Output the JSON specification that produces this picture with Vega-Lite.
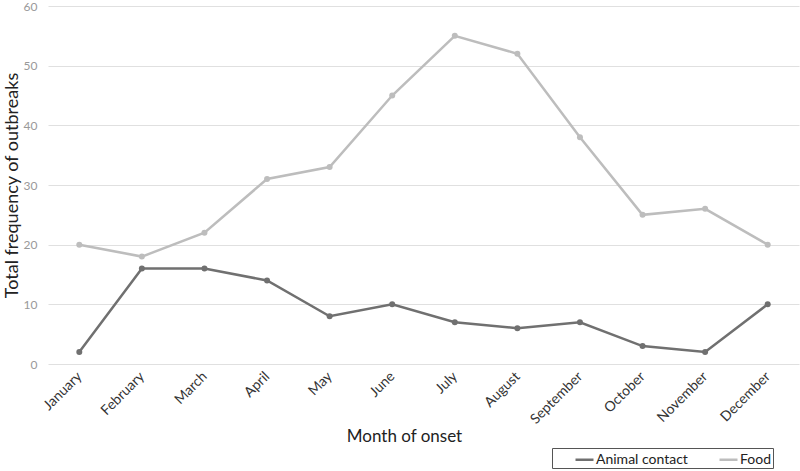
{
  "$schema": "https://vega.github.io/schema/vega-lite/v6.json",
  "autosize": {"type": "none"},
  "width": 751,
  "height": 358,
  "padding": {"left": 48, "top": 6, "right": 1, "bottom": 107},
  "background": "white",
  "config": {"view": {"stroke": null}, "font": "Lato"},
  "data": {"values": [
    {"month": "January", "series": "Animal contact", "count": 2},
    {"month": "February", "series": "Animal contact", "count": 16},
    {"month": "March", "series": "Animal contact", "count": 16},
    {"month": "April", "series": "Animal contact", "count": 14},
    {"month": "May", "series": "Animal contact", "count": 8},
    {"month": "June", "series": "Animal contact", "count": 10},
    {"month": "July", "series": "Animal contact", "count": 7},
    {"month": "August", "series": "Animal contact", "count": 6},
    {"month": "September", "series": "Animal contact", "count": 7},
    {"month": "October", "series": "Animal contact", "count": 3},
    {"month": "November", "series": "Animal contact", "count": 2},
    {"month": "December", "series": "Animal contact", "count": 10},
    {"month": "January", "series": "Food", "count": 20},
    {"month": "February", "series": "Food", "count": 18},
    {"month": "March", "series": "Food", "count": 22},
    {"month": "April", "series": "Food", "count": 31},
    {"month": "May", "series": "Food", "count": 33},
    {"month": "June", "series": "Food", "count": 45},
    {"month": "July", "series": "Food", "count": 55},
    {"month": "August", "series": "Food", "count": 52},
    {"month": "September", "series": "Food", "count": 38},
    {"month": "October", "series": "Food", "count": 25},
    {"month": "November", "series": "Food", "count": 26},
    {"month": "December", "series": "Food", "count": 20}
  ]},
  "mark": {"type": "line", "strokeWidth": 2.5, "point": {"size": 36, "filled": true}},
  "encoding": {
    "x": {
      "field": "month", "type": "ordinal", "sort": null,
      "scale": {"type": "point", "padding": 0.5},
      "axis": {
        "title": "Month of onset", "titleFontSize": 17, "titleFontWeight": "normal", "titleColor": "#222",
        "titlePadding": 2, "titleX": 356,
        "labelAngle": -45, "labelAlign": "right", "labelBaseline": "middle", "labelFontSize": 14, "labelColor": "#333",
        "labelPadding": 10,
        "domain": false, "ticks": false, "grid": false
      }
    },
    "y": {
      "field": "count", "type": "quantitative",
      "scale": {"domain": [0, 60]},
      "axis": {
        "title": "Total frequency of outbreaks", "titleFontSize": 18, "titleFontWeight": "normal", "titleColor": "#222",
        "titlePadding": 2,
        "values": [0, 10, 20, 30, 40, 50, 60],
        "labelFontSize": 12, "labelColor": "#999", "labelPadding": 11,
        "domain": false, "ticks": false, "grid": true, "gridColor": "#e0e0e0", "gridWidth": 1.2
      }
    },
    "color": {
      "field": "series", "type": "nominal",
      "scale": {"domain": ["Animal contact", "Food"], "range": ["#707070", "#bdbdbd"]},
      "legend": {
        "title": null, "orient": "none", "legendX": 504, "legendY": 442, "direction": "horizontal",
        "strokeColor": "#555", "padding": 1, "symbolType": "stroke", "symbolStrokeWidth": 2.5,
        "symbolSize": 324, "labelFontSize": 14, "labelColor": "#222", "columnPadding": 9, "symbolOffset": 21,
        "labelOffset": 1,
        "labelExpr": "datum.label == 'Food' ? 'Food\u00a0\u00a0\u00a0\u00a0\u00a0\u00a0\u00a0' : datum.label"
      }
    }
  }
}
